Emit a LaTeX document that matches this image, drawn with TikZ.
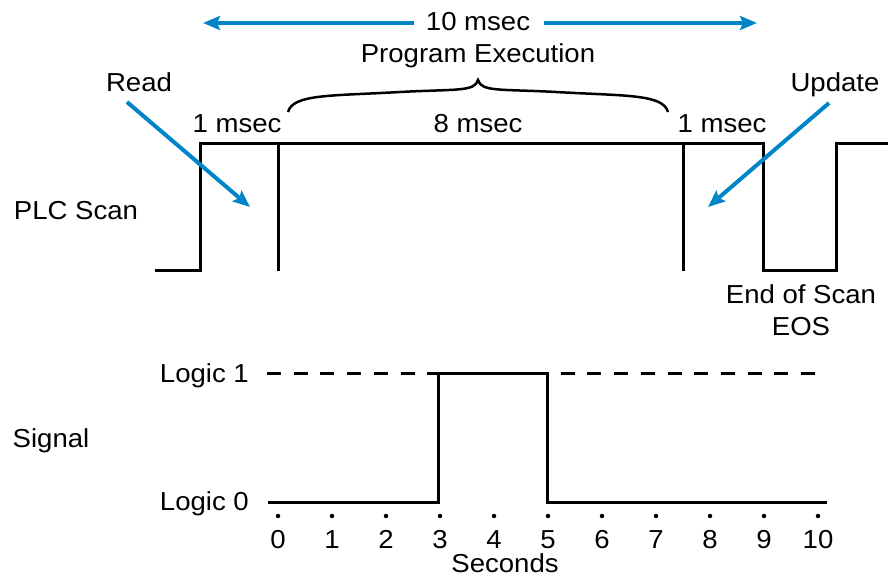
\documentclass[tikz,border=0pt]{standalone}
\usepackage{fontspec}
\setmainfont{Liberation Sans}[FakeStretch=1.06]
\usetikzlibrary{arrows.meta}
\definecolor{plcblue}{RGB}{0,134,200}
\begin{document}
\begin{tikzpicture}[x=1pt,y=-1pt,
  lbl/.style={font=\fontsize{26}{30}\selectfont, inner sep=0pt},
  wave/.style={line width=3pt, line join=miter},
  bluearrow/.style={draw=plcblue, line width=4pt, -{Stealth[length=17pt,width=14pt,inset=3pt]}},
  tickdot/.style={fill=black, circle, inner sep=0pt, minimum size=4.5pt}]
\useasboundingbox (0,0) rectangle (888,578);
% ---- top texts
\node[lbl, anchor=base] (ten) at (478,31) {10 msec};
\node[lbl, anchor=base] (prog) at (478,63) {Program Execution};
\node[lbl, anchor=base] (read) at (139,92) {Read};
\node[lbl, anchor=base] (upd) at (835,92) {Update};
\node[lbl, anchor=base] (m1a) at (237,132) {1 msec};
\node[lbl, anchor=base] (m8) at (478,132) {8 msec};
\node[lbl, anchor=base] (m1b) at (722,132) {1 msec};
\node[lbl, anchor=base] (plc) at (76,219) {PLC Scan};
\node[lbl, anchor=base] (eos1) at (801,303) {End of Scan};
\node[lbl, anchor=base] (eos2) at (801,335) {EOS};
% ---- top span arrow
\coordinate (tl) at (203,23);
\coordinate (tr) at (757,23);
\draw[bluearrow] (ten.west |- 0,23) ++(-12,0) -- (tl);
\draw[bluearrow] (ten.east |- 0,23) ++(14,0) -- (tr);
% ---- brace
\draw[line width=2.5pt]
  (288,112) .. controls (293,94) and (330,96) .. (400,92)
  .. controls (455,89) and (475,92) .. (478,80)
  .. controls (481,92) and (501,89) .. (556,92)
  .. controls (626,96) and (663,94) .. (668,112);
% ---- PLC scan waveform
\draw[wave] (155,270) -- (200,270) -- (200,143) -- (763,143) -- (763,270) -- (836,270) -- (836,143) -- (890,143);
\draw[wave] (278,143) -- (278,271);
\draw[wave] (683,143) -- (683,271);
% ---- read / update arrows
\coordinate (rs) at (127,102);
\coordinate (re) at (250,207);
\coordinate (us) at (829,103);
\coordinate (ue) at (708,207);
\draw[bluearrow] (rs) -- (re);
\draw[bluearrow] (us) -- (ue);
% ---- signal
\node[lbl, anchor=base] (sig) at (51,447) {Signal};
\node[lbl, anchor=base east] (l1) at (249,382) {Logic 1};
\node[lbl, anchor=base east] (l0) at (249,510) {Logic 0};
\draw[line width=3pt, dash pattern=on 14pt off 12.7pt] (267,373) -- (815,373);
\draw[wave] (268,502) -- (438,502) -- (438,373) -- (547,373) -- (547,502) -- (827,502);
% ---- axis
\foreach \i in {0,...,10} {
  \node[tickdot] (d\i) at ({278+54*\i},516) {};
  \node[lbl, anchor=base] (n\i) at ({278+54*\i},548) {\i};
}
\node[lbl, anchor=base] (sec) at (505,572) {Seconds};
\end{tikzpicture}
\end{document}
